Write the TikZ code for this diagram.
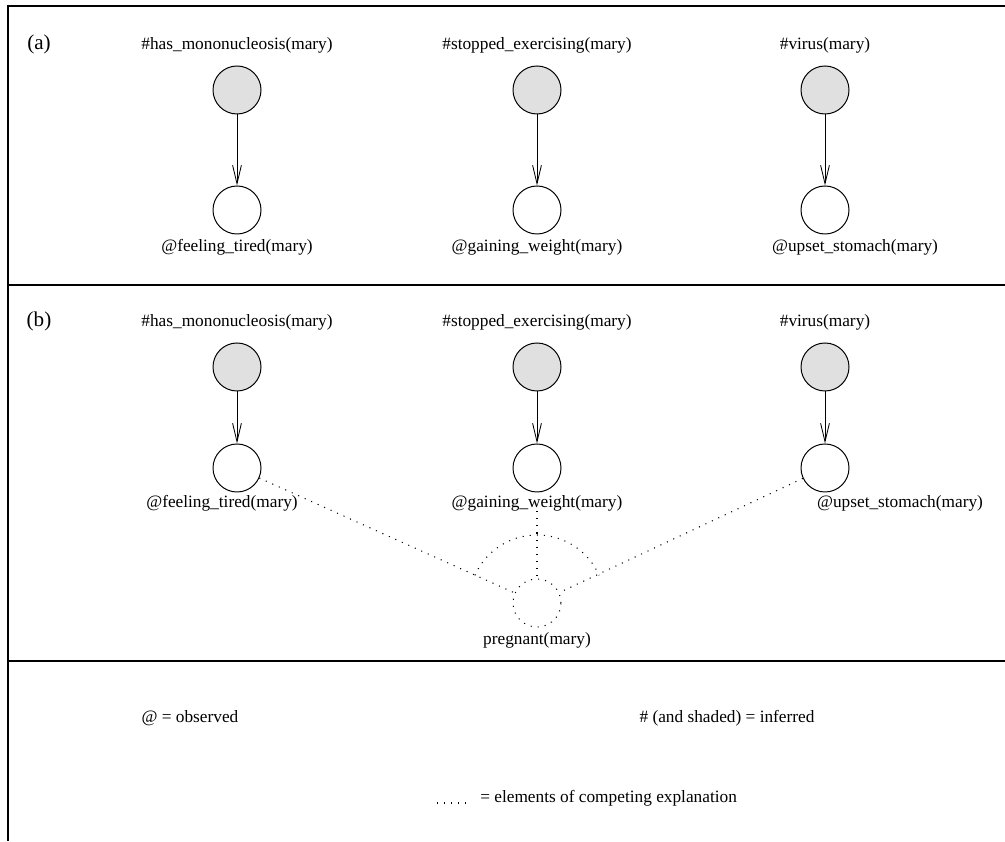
\documentclass[tikz,border=0pt]{standalone}
\usepackage{fontspec}
\setmainfont{Liberation Serif}
\usetikzlibrary{arrows.meta}

\tikzset{
  frame/.style={line width=1.1pt},
  sparse/.style={line width=0.75pt, dash pattern=on 0.75pt off 4.3pt},
  cause/.style={circle, draw, line width=0.7pt, fill=black!12, minimum size=1.2cm, inner sep=0pt},
  effect/.style={circle, draw, line width=0.7pt, fill=white, minimum size=1.2cm, inner sep=0pt},
  hypo/.style={circle, draw, sparse, minimum size=1.2cm, inner sep=0pt},
  link/.style={-{Straight Barb[length=4.6mm,width=2.2mm]}, line width=0.6pt},
  lbl/.style={inner sep=0pt},
  tag/.style={inner sep=0pt, font=\fontsize{15}{18}\selectfont}
}

\begin{document}
\begin{tikzpicture}[x=0.025cm, y=0.025cm, font=\fontsize{12.3}{14}\selectfont]
  \useasboundingbox (0,0) rectangle (1005,841);

  % Frame and separators
  \draw[frame] (1005,835) -- (8,835) -- (8,0);
  \draw[frame] (8,556) -- (1005,556);
  \draw[frame] (8,180) -- (1005,180);

  % (a) Separate explanations
  \node[tag] (tagA) at (39,797) {(a)};
  \node[lbl] (hmAl) at (237,796) {\#has\_mononucleosis(mary)};
  \node[lbl] (seAl) at (537,796) {\#stopped\_exercising(mary)};
  \node[lbl] (viAl) at (825,796) {\#virus(mary)};
  \node[cause] (hmA) at (237,751) {};
  \node[cause] (seA) at (537,751) {};
  \node[cause] (viA) at (825,751) {};
  \node[effect] (ftA) at (237,631) {};
  \node[effect] (gwA) at (537,631) {};
  \node[effect] (usA) at (825,631) {};
  \node[lbl] (ftAl) at (237,594) {@feeling\_tired(mary)};
  \node[lbl] (gwAl) at (537,594) {@gaining\_weight(mary)};
  \node[lbl] (usAl) at (855,594) {@upset\_stomach(mary)};
  \draw[link] (hmA) -- (ftA);
  \draw[link] (seA) -- (gwA);
  \draw[link] (viA) -- (usA);

  % (b) With the competing explanation
  \node[tag] (tagB) at (39,520) {(b)};
  \node[lbl] (hmBl) at (237,519) {\#has\_mononucleosis(mary)};
  \node[lbl] (seBl) at (537,519) {\#stopped\_exercising(mary)};
  \node[lbl] (viBl) at (825,519) {\#virus(mary)};
  \node[cause] (hmB) at (237,474) {};
  \node[cause] (seB) at (537,474) {};
  \node[cause] (viB) at (825,474) {};
  \node[effect] (ftB) at (237,373) {};
  \node[effect] (gwB) at (537,373) {};
  \node[effect] (usB) at (825,373) {};
  \node[lbl] (ftBl) at (222,338) {@feeling\_tired(mary)};
  \node[lbl] (gwBl) at (537,338) {@gaining\_weight(mary)};
  \node[lbl] (usBl) at (900,338) {@upset\_stomach(mary)};
  \draw[link] (hmB) -- (ftB);
  \draw[link] (seB) -- (gwB);
  \draw[link] (viB) -- (usB);

  % Competing explanation
  \node[hypo] (pr) at (537,238) {};
  \node[lbl] (prl) at (537,201) {pregnant(mary)};
  \draw[sparse] (ftB) -- (pr);
  \draw[sparse] (gwBl) -- (pr);
  \draw[sparse] (usB) -- (pr);
  \draw[sparse] (pr) ++(156:68) arc[start angle=156, end angle=24, radius=68];

  % Legend
  \node[lbl] (obs) at (190,123) {@ = observed};
  \node[lbl] (inf) at (727,123) {\# (and shaded) = inferred};
  \coordinate (dotL) at (437,38);
  \coordinate (dotR) at (472,38);
  \draw[sparse] (dotL) -- (dotR);
  \node[lbl, anchor=west] (cmp) at (480,43) {= elements of competing explanation};
\end{tikzpicture}
\end{document}
